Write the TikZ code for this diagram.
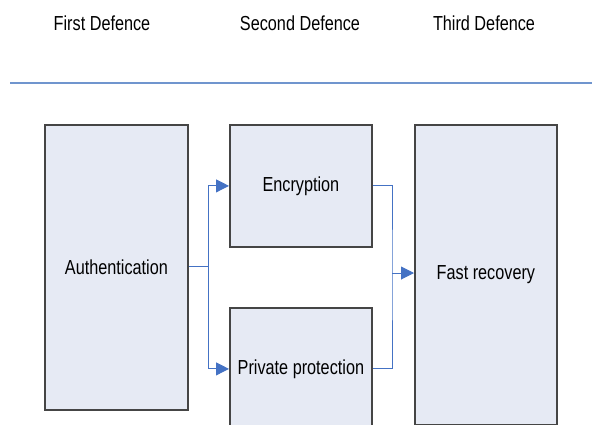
\documentclass[tikz,border=0pt]{standalone}
\usepackage{fontspec}
\setmainfont[FakeStretch=0.8]{Liberation Sans}
\usetikzlibrary{arrows.meta}
\definecolor{boxfill}{HTML}{E6EAF4}
\definecolor{boxline}{HTML}{454545}
\definecolor{conn}{HTML}{4472C4}
\definecolor{rule}{HTML}{7095CE}
\tikzset{
  defbox/.style={draw=boxline, line width=1.8pt, fill=boxfill, anchor=north west,
    inner sep=0pt, font=\fontsize{20.3}{24}\selectfont},
  title/.style={font=\fontsize{20.3}{24}\selectfont, inner sep=0pt},
  link/.style={draw=conn, line width=1pt},
  arr/.style={link, -{Triangle[length=13pt,width=13pt]}, shorten >=0pt}
}
\begin{document}
\begin{tikzpicture}[x=1pt,y=-1pt]
\useasboundingbox (0,0) rectangle (592,424);
\clip (0,0) rectangle (592,424);
\node[title] (t1) at (102,23) {First Defence};
\node[title] (t2) at (300,23) {Second Defence};
\node[title] (t3) at (484,23) {Third Defence};
\coordinate (rl) at (10,83);
\coordinate (rr) at (592,83);
\draw[rule, line width=1.4pt] (rl) -- (rr);
\node[defbox, minimum width=143pt, minimum height=285pt] (auth) at (44,124) {Authentication};
\node[defbox, minimum width=142pt, minimum height=122pt] (enc) at (229,124) {Encryption};
\node[defbox, minimum width=142pt, minimum height=122pt] (priv) at (229,307) {Private protection};
\node[defbox, minimum width=142pt, minimum height=300pt] (fast) at (414,124) {Fast recovery};
\coordinate (sp) at (208,266);
\coordinate (jn) at (392,273);
\draw[link] (auth.east |- sp) -- (sp);
\draw[arr] (sp) |- (enc.west);
\draw[arr] (sp) |- (priv.west);
\draw[link] (enc.east) -| (jn) |- (priv.east);
\draw[arr] (jn) -- (jn -| fast.west);
\end{tikzpicture}
\end{document}
